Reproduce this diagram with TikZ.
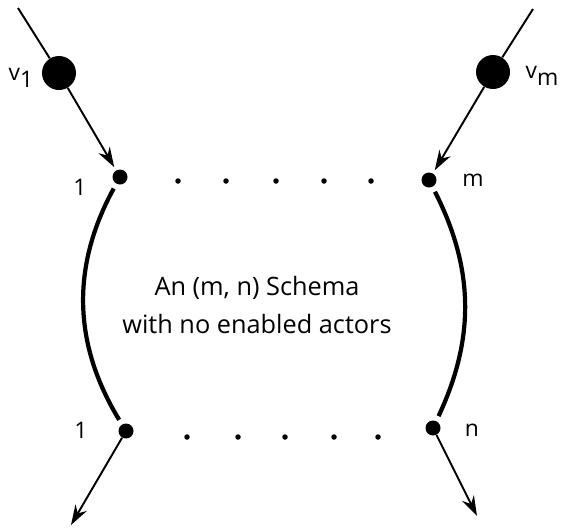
\documentclass[tikz,border=0pt]{standalone}
\usepackage{fontspec}
\setmainfont{Open Sans}
\usetikzlibrary{arrows.meta,positioning}

\begin{document}
\begin{tikzpicture}[
    bigdot/.style={circle,fill=black,inner sep=0pt,minimum size=0.68cm},
    port/.style={circle,fill=black,inner sep=0pt,minimum size=0.30cm},
    gapdot/.style={circle,fill=black,inner sep=0pt,minimum size=0.11cm},
    wire/.style={line width=1.1pt},
    flow/.style={-{Stealth[length=4mm,width=2.6mm]},line width=1.1pt,shorten >=2pt},
    rim/.style={line width=2.4pt,shorten <=3pt,shorten >=3pt},
    tag/.style={font=\fontsize{13}{16}\selectfont,inner sep=1pt}]
\useasboundingbox (0,0) rectangle (11.32,10.58);
% tokens on the incoming arcs
\coordinate (v1in) at (0.36,10.42);
\coordinate (vmin) at (10.66,10.40);
\node[bigdot] (v1) at (1.18,9.12) {};
\node[bigdot] (vm) at (9.86,9.14) {};
\node[tag] at (0.42,9.02) {v\raisebox{-0.6ex}{1}};
\node[tag] at (10.84,9.06) {v\raisebox{-0.6ex}{m}};
% input and output ports
\node[port] (in1) at (2.40,7.04) {};
\node[port] (inm) at (8.58,6.98) {};
\node[port] (out1) at (2.52,1.96) {};
\node[port] (outn) at (8.66,2.02) {};
\node[tag] at (1.60,6.84) {1};
\node[tag] at (9.46,6.98) {m};
\node[tag] at (1.62,1.98) {1};
\node[tag] at (9.44,1.98) {n};
\coordinate (out1end) at (1.42,0.08);
\coordinate (outnend) at (9.54,0.26);
\foreach \x [count=\i] in {3.56,4.52,5.52,6.48,7.42}
    \node[gapdot] (gi\i) at (\x,6.96) {};
\foreach \x [count=\i] in {3.74,4.76,5.70,6.68,7.56}
    \node[gapdot] (go\i) at (\x,1.84) {};
\node[font=\fontsize{14.4}{22}\selectfont,align=center] (schema) at (5.14,4.48)
    {An (m, n) Schema\\with no enabled actors};
\draw[wire] (v1in) -- (v1);
\draw[wire] (vmin) -- (vm);
\draw[flow] (v1) -- (in1);
\draw[flow] (vm) -- (inm);
\draw[rim] (in1) to[bend right=30] (out1);
\draw[rim] (inm) to[bend left=26] (outn);
\draw[flow,shorten >=0pt] (out1) -- (out1end);
\draw[flow,shorten >=0pt] (outn) -- (outnend);
\end{tikzpicture}
\end{document}
